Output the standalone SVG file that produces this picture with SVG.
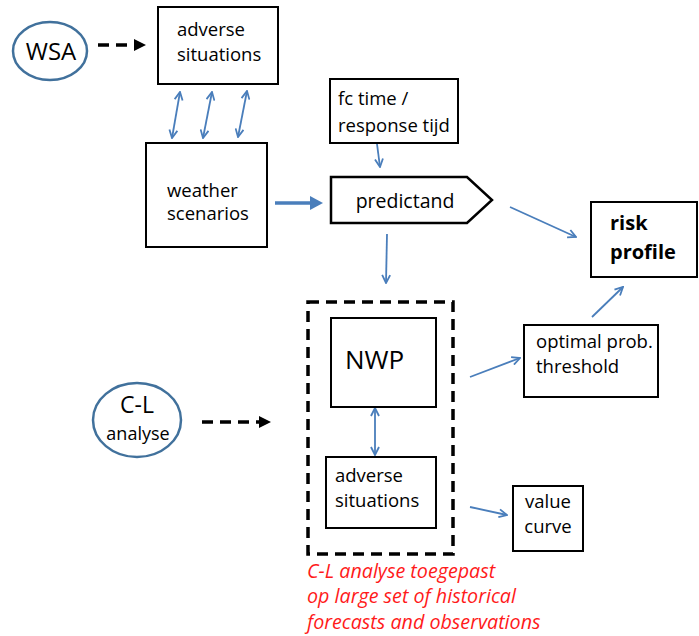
<svg xmlns="http://www.w3.org/2000/svg" width="699" height="636" viewBox="0 0 699 636">
<style>
text{font-family:"Open Sans","Liberation Sans",sans-serif;font-size:18.5px;fill:#000}
.box{fill:#fff;stroke:#000;stroke-width:2}
.ell{fill:#fff;stroke:#41719C;stroke-width:2.5}
.bl{stroke:#4A7EBB;stroke-width:1.8;fill:none}
.dash{stroke:#000;stroke-width:3.5;stroke-dasharray:11 7;fill:none}
.red{fill:#FF1A1A;font-style:italic;font-size:19.7px}
</style>
<defs>
<marker id="v" viewBox="0 0 10 10" refX="9" refY="5" markerWidth="10" markerHeight="10" markerUnits="userSpaceOnUse" orient="auto-start-reverse">
<path d="M1,1 L9,5 L1,9" fill="none" stroke="#4A7EBB" stroke-width="1.8"/>
</marker>
</defs>

<g id="connectors">
<line class="dash" x1="98" y1="45" x2="136" y2="45" stroke-dasharray="10 6"/>
<path d="M134,39 L146,45 L134,51 Z" fill="#000"/>
<line class="bl" x1="180" y1="92" x2="172" y2="138" marker-start="url(#v)" marker-end="url(#v)"/>
<line class="bl" x1="212" y1="92" x2="203" y2="138" marker-start="url(#v)" marker-end="url(#v)"/>
<line class="bl" x1="247" y1="91" x2="238" y2="137" marker-start="url(#v)" marker-end="url(#v)"/>
<line x1="275" y1="203" x2="312" y2="203" stroke="#4A7EBB" stroke-width="3.5"/>
<path d="M310,196 L323,203 L310,210 Z" fill="#4A7EBB"/>
<line class="bl" x1="377" y1="144" x2="380" y2="167" marker-end="url(#v)"/>
<line class="bl" x1="387" y1="234" x2="386" y2="283" marker-end="url(#v)"/>
<line class="bl" x1="510" y1="207" x2="576" y2="237" marker-end="url(#v)"/>
<line class="bl" x1="592" y1="317" x2="623" y2="287" marker-end="url(#v)"/>
<line class="bl" x1="470" y1="377" x2="520" y2="358" marker-end="url(#v)"/>
<line class="bl" x1="375" y1="408" x2="375" y2="455" marker-start="url(#v)" marker-end="url(#v)"/>
<line class="bl" x1="470" y1="507" x2="507" y2="515" marker-end="url(#v)"/>
<line class="dash" x1="202" y1="422" x2="262" y2="422" stroke-dasharray="10 6"/>
<path d="M259,416 L271,422 L259,428 Z" fill="#000"/>
</g>

<g id="wsa">
<ellipse class="ell" cx="50" cy="51" rx="37" ry="29"/>
<text x="51" y="60" text-anchor="middle" style="font-size:24px">WSA</text>
</g>

<g id="adverse1">
<rect class="box" x="158" y="7" width="120" height="77"/>
<text x="177" y="36">adverse</text>
<text x="177" y="61">situations</text>
</g>

<g id="weather">
<rect class="box" x="146" y="143" width="121" height="104"/>
<text x="167" y="197">weather</text>
<text x="167" y="220">scenarios</text>
</g>

<g id="fctime">
<rect class="box" x="330" y="79" width="128" height="64"/>
<text x="338" y="105">fc time /</text>
<text x="338" y="132">response tijd</text>
</g>

<g id="predictand">
<path d="M331,177 L467,177 L492,200 L467,223 L331,223 Z" fill="#fff" stroke="#000" stroke-width="2.5"/>
<text x="405" y="208" text-anchor="middle" style="font-size:19.5px">predictand</text>
</g>

<g id="risk">
<rect class="box" x="591" y="202" width="106" height="75"/>
<text x="610" y="230" style="font-size:20px;font-weight:bold">risk</text>
<text x="610" y="259" style="font-size:20px;font-weight:bold">profile</text>
</g>

<g id="optimal">
<rect class="box" x="524" y="325" width="134" height="72"/>
<text x="536" y="348">optimal prob.</text>
<text x="536" y="373">threshold</text>
</g>

<g id="cl-box">
<rect class="dash" x="308" y="302" width="145" height="252" stroke-width="4" stroke-dasharray="14 8"/>
</g>

<g id="nwp">
<rect class="box" x="331" y="318" width="105" height="89"/>
<text x="345" y="369" style="font-size:26px">NWP</text>
</g>

<g id="adverse2">
<rect class="box" x="326" y="457" width="110" height="71"/>
<text x="335" y="482">adverse</text>
<text x="335" y="507">situations</text>
</g>

<g id="value">
<rect class="box" x="513" y="486" width="70" height="65"/>
<text x="548" y="508" text-anchor="middle">value</text>
<text x="548" y="533" text-anchor="middle">curve</text>
</g>

<g id="cl">
<ellipse class="ell" cx="137" cy="420" rx="44" ry="37"/>
<text x="137" y="413" text-anchor="middle" style="font-size:23px">C-L</text>
<text x="138" y="440" text-anchor="middle" style="font-size:18px">analyse</text>
</g>

<g id="note">
<text class="red" x="307" y="578">C-L analyse toegepast</text>
<text class="red" x="307" y="603">op large set of historical</text>
<text class="red" x="307" y="629">forecasts and observations</text>
</g>
</svg>
